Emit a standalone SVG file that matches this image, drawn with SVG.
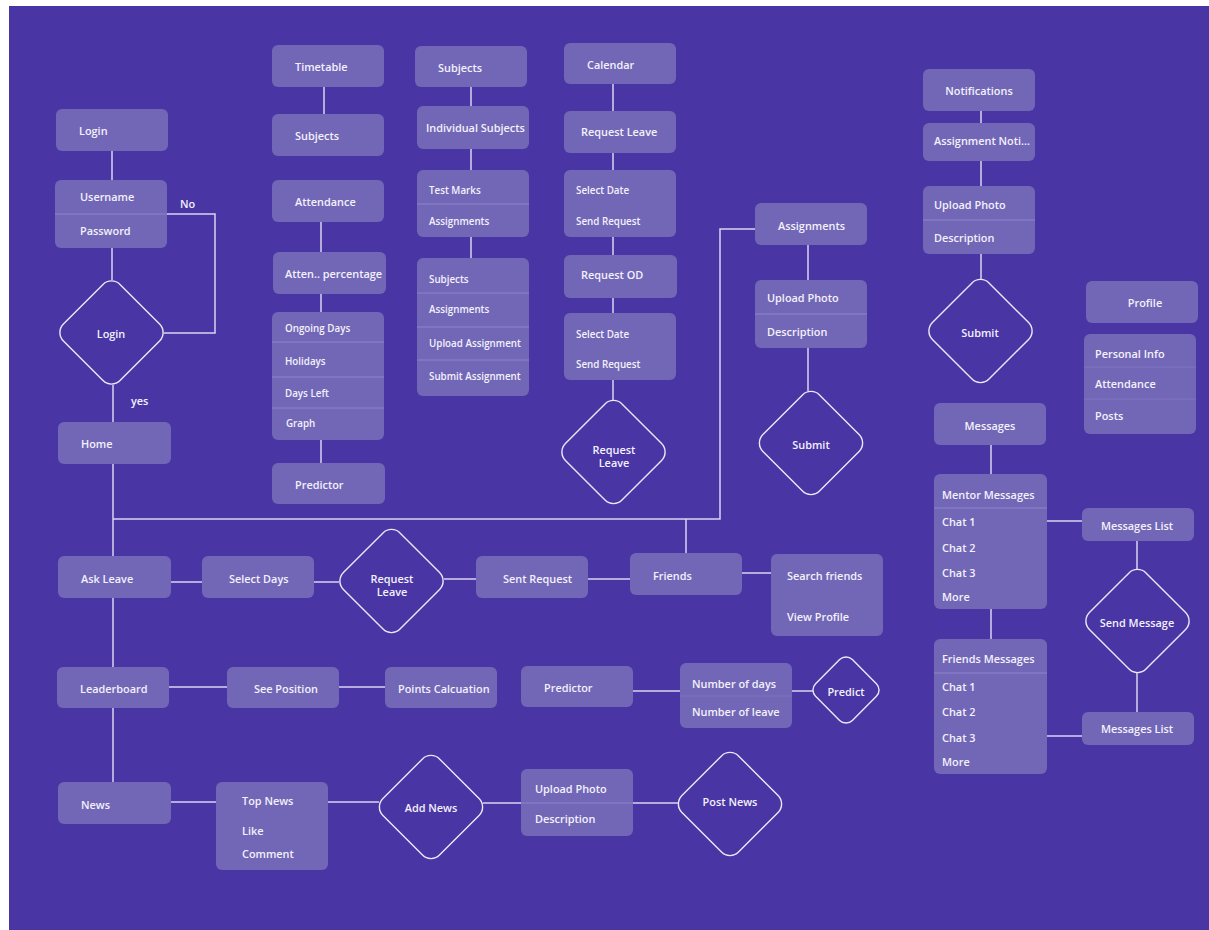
<svg xmlns="http://www.w3.org/2000/svg" width="1209" height="930" viewBox="0 0 1209 930">
<style>
.n{fill:#7267b7}
.d{fill:none;stroke:#ece8f8;stroke-width:1.4}
.dv{stroke:#8c83cc;stroke-width:1}
.c{fill:none;stroke:#d9d4f0;stroke-width:1.5}
text{font-family:"Open Sans","Noto Sans","Liberation Sans",sans-serif;font-weight:600;fill:#f3f1fb;font-size:10.9px;dominant-baseline:central}
.s{font-size:9.8px}
.m{text-anchor:middle}
</style>
<rect x="0" y="0" width="1209" height="930" fill="#ffffff"/>
<rect x="9" y="6" width="1200" height="924" fill="#4a35a5"/>

<g id="connectors" class="c">
<path d="M112 151V180M112 248V280"/>
<path d="M167 214H215V333H164"/>
<path d="M113 385V422M113 464V782"/>
<path d="M113 519H720V229H755"/>
<path d="M686 519V553"/>
<path d="M324 87V114"/>
<path d="M321 222V252M321 294V312M321 440V463"/>
<path d="M471 87V106M471 149V170M471 237V258"/>
<path d="M613 84V111M613 153V170M613 237V255M613 298V313M613 380V400"/>
<path d="M808 245V280M808 348V391"/>
<path d="M981 111V123M981 161V186M981 254V279"/>
<path d="M991 445V474M991 609V639"/>
<path d="M1047 521H1082M1047 736H1082"/>
<path d="M1137 541V569M1137 673V712"/>
<path d="M171 582H202M314 582H339M444 579H476M588 579H630M742 573H771"/>
<path d="M169 687H227M339 687H385"/>
<path d="M633 691H680M792 691H813"/>
<path d="M171 802H216M328 802H379M483 803H521M633 803H678"/>
</g>

<g id="login"><rect class="n" x="56" y="109" width="112" height="42" rx="6"/><text x="79" y="130">Login</text></g>
<g id="credentials"><rect class="n" x="55" y="180" width="112" height="68" rx="6"/><line class="dv" x1="55" y1="214" x2="167" y2="214"/><text x="80" y="196">Username</text><text x="80" y="230">Password</text></g>
<g id="label-no"><text x="180" y="203">No</text></g>
<g id="login-decision"><rect class="d" x="-40" y="-40" width="80" height="80" rx="12" transform="translate(111.5 332.5) rotate(45)"/><text class="m" x="111" y="333">Login</text></g>
<g id="label-yes"><text x="131" y="400">yes</text></g>
<g id="home"><rect class="n" x="58" y="422" width="113" height="42" rx="6"/><text x="81" y="443">Home</text></g>

<g id="timetable"><rect class="n" x="272" y="45" width="112" height="42" rx="6"/><text x="295" y="66">Timetable</text></g>
<g id="tt-subjects"><rect class="n" x="272" y="114" width="112" height="42" rx="6"/><text x="295" y="135">Subjects</text></g>
<g id="attendance"><rect class="n" x="272" y="180" width="112" height="42" rx="6"/><text x="295" y="201">Attendance</text></g>
<g id="atten-percentage"><rect class="n" x="273" y="252" width="113" height="42" rx="6"/><text x="285" y="273">Atten.. percentage</text></g>
<g id="attendance-details"><rect class="n" x="272" y="312" width="112" height="128" rx="6"/><line class="dv" x1="272" y1="342" x2="384" y2="342"/><line class="dv" x1="272" y1="377" x2="384" y2="377"/><line class="dv" x1="272" y1="408" x2="384" y2="408"/><text class="s" x="285" y="328">Ongoing Days</text><text class="s" x="285" y="361">Holidays</text><text class="s" x="285" y="393">Days Left</text><text class="s" x="286" y="423">Graph</text></g>
<g id="predictor-top"><rect class="n" x="272" y="463" width="113" height="41" rx="6"/><text x="295" y="484">Predictor</text></g>

<g id="subjects"><rect class="n" x="415" y="46" width="112" height="41" rx="6"/><text x="438" y="67">Subjects</text></g>
<g id="individual-subjects"><rect class="n" x="417" y="106" width="112" height="43" rx="6"/><text x="426" y="127">Individual Subjects</text></g>
<g id="marks"><rect class="n" x="417" y="170" width="112" height="67" rx="6"/><line class="dv" x1="417" y1="204" x2="529" y2="204"/><text class="s" x="429" y="190">Test Marks</text><text class="s" x="429" y="221">Assignments</text></g>
<g id="subject-assignments"><rect class="n" x="417" y="258" width="112" height="138" rx="6"/><line class="dv" x1="417" y1="293" x2="529" y2="293"/><line class="dv" x1="417" y1="327" x2="529" y2="327"/><line class="dv" x1="417" y1="360" x2="529" y2="360"/><text class="s" x="429" y="279">Subjects</text><text class="s" x="429" y="309">Assignments</text><text class="s" x="429" y="343">Upload Assignment</text><text class="s" x="429" y="376">Submit Assignment</text></g>

<g id="calendar"><rect class="n" x="564" y="43" width="112" height="41" rx="6"/><text x="587" y="64">Calendar</text></g>
<g id="request-leave-box"><rect class="n" x="564" y="111" width="112" height="42" rx="6"/><text x="581" y="131">Request Leave</text></g>
<g id="leave-form"><rect class="n" x="564" y="170" width="112" height="67" rx="6"/><text class="s" x="576" y="190">Select Date</text><text class="s" x="576" y="221">Send Request</text></g>
<g id="request-od"><rect class="n" x="564" y="255" width="113" height="43" rx="6"/><text x="581" y="274">Request OD</text></g>
<g id="od-form"><rect class="n" x="564" y="313" width="112" height="67" rx="6"/><text class="s" x="576" y="334">Select Date</text><text class="s" x="576" y="364">Send Request</text></g>
<g id="request-leave-decision"><rect class="d" x="-40" y="-40" width="80" height="80" rx="12" transform="translate(613.5 452) rotate(45)"/><text class="m" x="614" y="449">Request</text><text class="m" x="614" y="462">Leave</text></g>

<g id="assignments"><rect class="n" x="755" y="203" width="112" height="42" rx="6"/><text x="778" y="225">Assignments</text></g>
<g id="assignment-upload"><rect class="n" x="755" y="280" width="112" height="68" rx="6"/><line class="dv" x1="755" y1="314" x2="867" y2="314"/><text x="767" y="297">Upload Photo</text><text x="767" y="331">Description</text></g>
<g id="assignment-submit"><rect class="d" x="-40" y="-40" width="80" height="80" rx="12" transform="translate(811 443) rotate(45)"/><text class="m" x="811" y="444">Submit</text></g>

<g id="notifications"><rect class="n" x="923" y="69" width="112" height="42" rx="6"/><text class="m" x="979" y="90">Notifications</text></g>
<g id="assignment-noti"><rect class="n" x="923" y="123" width="112" height="38" rx="6"/><text x="934" y="140">Assignment Noti...</text></g>
<g id="noti-upload"><rect class="n" x="923" y="186" width="112" height="68" rx="6"/><line class="dv" x1="923" y1="220" x2="1035" y2="220"/><text x="934" y="204">Upload Photo</text><text x="934" y="237">Description</text></g>
<g id="noti-submit"><rect class="d" x="-40" y="-40" width="80" height="80" rx="12" transform="translate(980.5 331) rotate(45)"/><text class="m" x="980" y="332">Submit</text></g>

<g id="profile"><rect class="n" x="1086" y="281" width="112" height="42" rx="6"/><text class="m" x="1145" y="302">Profile</text></g>
<g id="profile-details"><rect class="n" x="1084" y="334" width="112" height="100" rx="6"/><line class="dv" x1="1084" y1="367" x2="1196" y2="367" opacity="0.5"/><line class="dv" x1="1084" y1="399" x2="1196" y2="399" opacity="0.5"/><text x="1095" y="353">Personal Info</text><text x="1095" y="383">Attendance</text><text x="1095" y="415">Posts</text></g>

<g id="messages"><rect class="n" x="934" y="403" width="112" height="42" rx="6"/><text class="m" x="990" y="425">Messages</text></g>
<g id="mentor-messages"><rect class="n" x="934" y="474" width="113" height="135" rx="6"/><line class="dv" x1="934" y1="508" x2="1047" y2="508"/><text x="942" y="494">Mentor Messages</text><text x="942" y="521">Chat 1</text><text x="942" y="547">Chat 2</text><text x="942" y="572">Chat 3</text><text x="942" y="596">More</text></g>
<g id="messages-list-1"><rect class="n" x="1082" y="508" width="112" height="33" rx="6"/><text class="m" x="1137" y="525">Messages List</text></g>
<g id="send-message"><rect class="d" x="-40" y="-40" width="80" height="80" rx="12" transform="translate(1137.5 621) rotate(45)"/><text class="m" x="1137" y="622">Send Message</text></g>
<g id="friends-messages"><rect class="n" x="934" y="639" width="113" height="135" rx="6"/><line class="dv" x1="934" y1="673" x2="1047" y2="673"/><text x="942" y="658">Friends Messages</text><text x="942" y="686">Chat 1</text><text x="942" y="711">Chat 2</text><text x="942" y="737">Chat 3</text><text x="942" y="761">More</text></g>
<g id="messages-list-2"><rect class="n" x="1082" y="712" width="112" height="33" rx="6"/><text class="m" x="1137" y="728">Messages List</text></g>

<g id="ask-leave"><rect class="n" x="58" y="556" width="113" height="42" rx="6"/><text x="81" y="578">Ask Leave</text></g>
<g id="select-days"><rect class="n" x="202" y="556" width="112" height="42" rx="6"/><text x="229" y="578">Select Days</text></g>
<g id="request-leave-decision-2"><rect class="d" x="-40" y="-40" width="80" height="80" rx="12" transform="translate(391.5 581) rotate(45)"/><text class="m" x="392" y="578">Request</text><text class="m" x="392" y="591">Leave</text></g>
<g id="sent-request"><rect class="n" x="476" y="556" width="112" height="42" rx="6"/><text x="503" y="578">Sent Request</text></g>
<g id="friends"><rect class="n" x="630" y="553" width="112" height="42" rx="6"/><text x="653" y="575">Friends</text></g>
<g id="friends-options"><rect class="n" x="771" y="554" width="112" height="82" rx="6"/><text x="787" y="575">Search friends</text><text x="787" y="616">View Profile</text></g>

<g id="leaderboard"><rect class="n" x="57" y="667" width="112" height="41" rx="6"/><text x="80" y="688">Leaderboard</text></g>
<g id="see-position"><rect class="n" x="227" y="667" width="112" height="41" rx="6"/><text x="254" y="688">See Position</text></g>
<g id="points-calculation"><rect class="n" x="385" y="667" width="112" height="41" rx="6"/><text x="398" y="688">Points Calcuation</text></g>
<g id="predictor"><rect class="n" x="521" y="666" width="112" height="41" rx="6"/><text x="544" y="687">Predictor</text></g>
<g id="predictor-inputs"><rect class="n" x="680" y="663" width="112" height="65" rx="6"/><line class="dv" x1="680" y1="696" x2="792" y2="696" opacity="0.4"/><text x="692" y="683">Number of days</text><text x="692" y="711">Number of leave</text></g>
<g id="predict"><rect class="d" x="-26" y="-26" width="52" height="52" rx="9" transform="translate(846 690) rotate(45)"/><text class="m" x="846" y="691">Predict</text></g>

<g id="news"><rect class="n" x="58" y="782" width="113" height="42" rx="6"/><text x="81" y="804">News</text></g>
<g id="top-news"><rect class="n" x="216" y="782" width="112" height="88" rx="6"/><text x="242" y="800">Top News</text><text x="242" y="830">Like</text><text x="242" y="853">Comment</text></g>
<g id="add-news"><rect class="d" x="-40" y="-40" width="80" height="80" rx="12" transform="translate(431 807) rotate(45)"/><text class="m" x="431" y="807">Add News</text></g>
<g id="news-upload"><rect class="n" x="521" y="769" width="112" height="67" rx="6"/><line class="dv" x1="521" y1="803" x2="633" y2="803"/><text x="535" y="788">Upload Photo</text><text x="535" y="818">Description</text></g>
<g id="post-news"><rect class="d" x="-40" y="-40" width="80" height="80" rx="12" transform="translate(730 804) rotate(45)"/><text class="m" x="730" y="801">Post News</text></g>
</svg>
